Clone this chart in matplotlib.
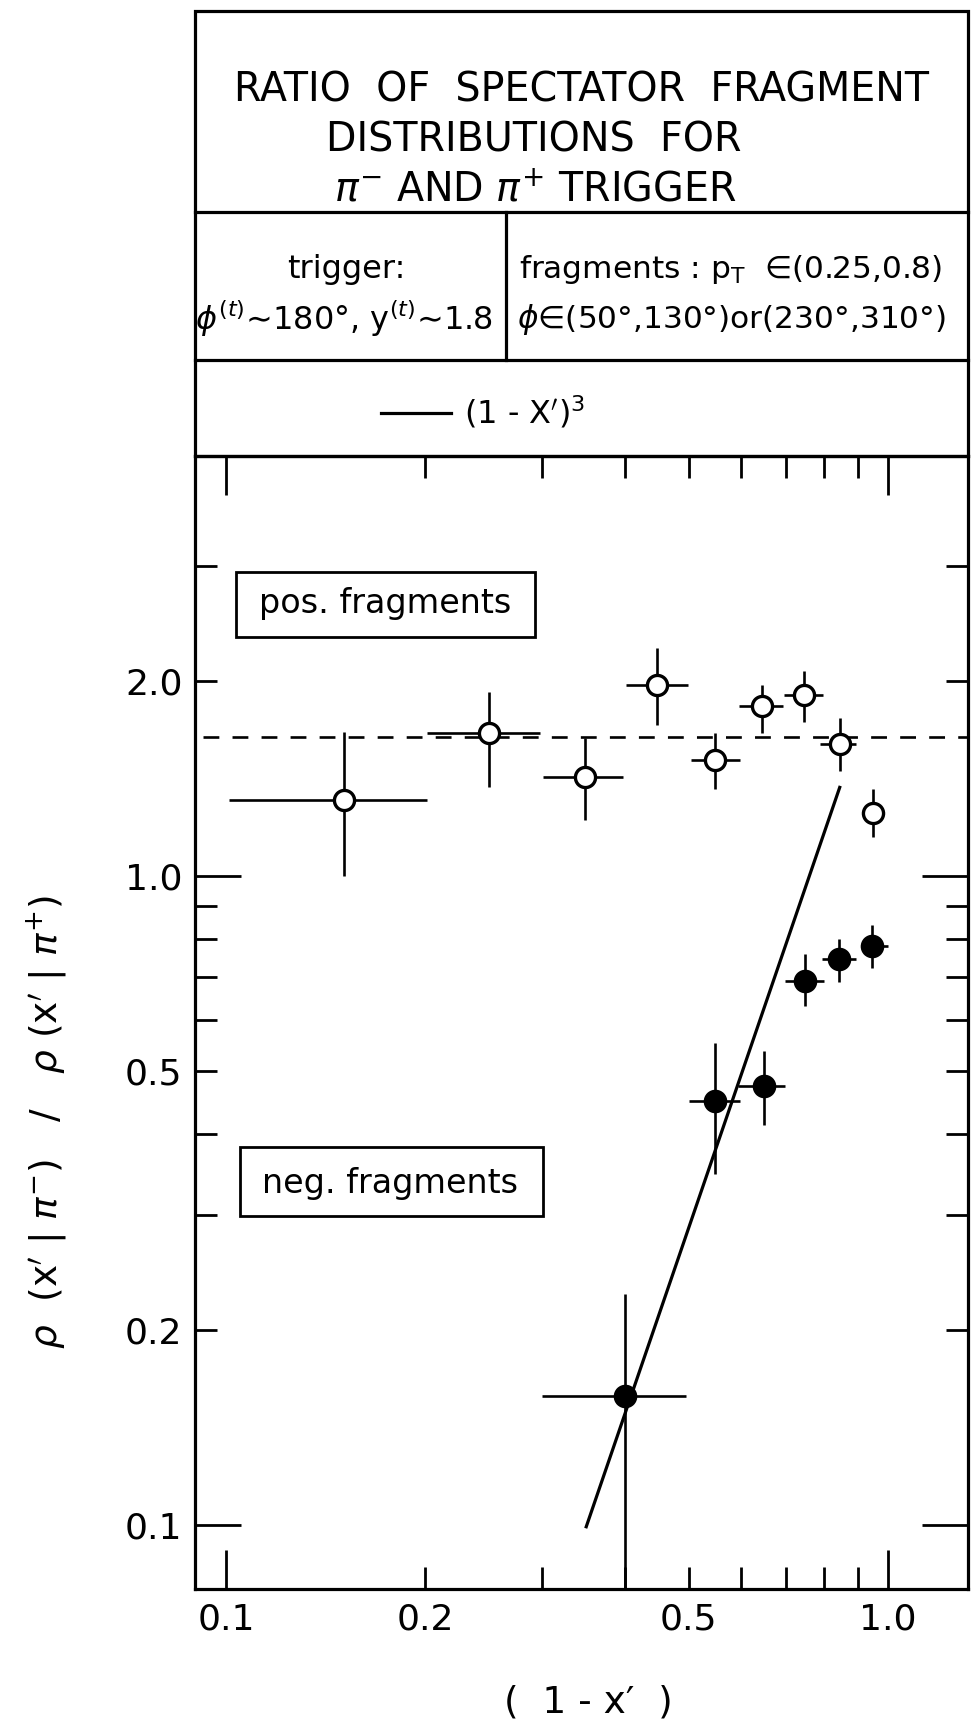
import matplotlib
matplotlib.use('Agg')
import matplotlib.pyplot as plt
from matplotlib.lines import Line2D
from matplotlib.patches import Rectangle
from matplotlib.ticker import FixedLocator, FixedFormatter
from matplotlib import font_manager as fm

# ---------------- data ----------------
# positive fragments (open circles)
pos_x = [0.151, 0.250, 0.349, 0.447, 0.547, 0.645, 0.746, 0.847, 0.949]
pos_xlo = [0.101, 0.201, 0.301, 0.402, 0.503, 0.596, 0.696, 0.788, 0.919]
pos_xhi = [0.201, 0.298, 0.398, 0.498, 0.598, 0.694, 0.797, 0.893, 0.984]
pos_y = [1.31, 1.66, 1.42, 1.97, 1.51, 1.83, 1.90, 1.60, 1.25]
pos_ylo = [1.00, 1.37, 1.22, 1.71, 1.36, 1.66, 1.73, 1.45, 1.15]
pos_yhi = [1.67, 1.92, 1.63, 2.25, 1.66, 1.97, 2.07, 1.75, 1.36]

# negative fragments (filled circles)
neg_x = [0.400, 0.547, 0.649, 0.750, 0.844, 0.944]
neg_xlo = [0.300, 0.500, 0.593, 0.698, 0.794, 0.910]
neg_xhi = [0.495, 0.598, 0.699, 0.801, 0.893, 1.000]
neg_y = [0.158, 0.450, 0.475, 0.690, 0.744, 0.781]
neg_ylo = [0.050, 0.348, 0.414, 0.630, 0.687, 0.722]
neg_yhi = [0.227, 0.553, 0.538, 0.759, 0.799, 0.842]

# (1 - x')^3 curve: straight line in log-log, end points
curve_x = [0.350, 0.845]
curve_y = [0.0994, 1.37]

# dashed mean level for positive fragments
pos_level = 1.64

# axis ticks
x_major = [0.1, 1.0]
x_major_labels = ['0.1', '1.0']
x_minor = [0.2, 0.3, 0.4, 0.5, 0.6, 0.7, 0.8, 0.9]
x_minor_labels = ['0.2', '', '', '0.5', '', '', '', '']
y_major = [0.1, 1.0]
y_major_labels = ['0.1', '1.0']
y_minor = [0.2, 0.3, 0.4, 0.5, 0.6, 0.7, 0.8, 0.9, 2.0, 3.0]
y_minor_labels = ['0.2', '', '', '0.5', '', '', '', '', '2.0', '']

title_lines = ["RATIO  OF  SPECTATOR  FRAGMENT",
               "DISTRIBUTIONS  FOR",
               r"$\pi^{-}$ AND $\pi^{+}$ TRIGGER"]
trigger_lines = ["trigger:", r"$\phi^{(t)}$∼180°, y$^{(t)}$∼1.8"]
frag_lines = [r"fragments : p$_{\rm T}$  ∈(0.25,0.8)",
              r"$\phi$∈(50°,130°)or(230°,310°)"]
curve_label = r"(1 - X$'$)$^{3}$"
ylabel = r"$\rho$  (x$'$ | $\pi^{-}$)   /   $\rho$ (x$'$ | $\pi^{+}$)"
xlabel = "(  1 - x′  )"

# ---------------- layout ----------------
W, H = 979, 1729
fig = plt.figure(figsize=(W / 100, H / 100), dpi=100)
fig.patch.set_facecolor('white')


def fx(x):
    return x / W


def fy(y):
    return 1 - y / H


names = {f.name for f in fm.fontManager.ttflist}
narrow = 'Liberation Sans Narrow' in names
title_family = 'Liberation Sans Narrow' if narrow else 'DejaVu Sans'
title_size = 34 if narrow else 28.5

L, R, T, B = 195, 968, 456, 1589
ax = fig.add_axes([fx(L), fy(B), fx(R) - fx(L), fy(T) - fy(B)])
ax.set_xscale('log')
ax.set_yscale('log')
ax.set_xlim(0.0898, 1.32)
ax.set_ylim(0.0797, 4.44)

for s in ax.spines.values():
    s.set_linewidth(2.3)

ax.xaxis.set_major_locator(FixedLocator(x_major))
ax.xaxis.set_major_formatter(FixedFormatter(x_major_labels))
ax.xaxis.set_minor_locator(FixedLocator(x_minor))
ax.xaxis.set_minor_formatter(FixedFormatter(x_minor_labels))
ax.yaxis.set_major_locator(FixedLocator(y_major))
ax.yaxis.set_major_formatter(FixedFormatter(y_major_labels))
ax.yaxis.set_minor_locator(FixedLocator(y_minor))
ax.yaxis.set_minor_formatter(FixedFormatter(y_minor_labels))

ax.tick_params(axis='both', which='both', direction='in', top=True, right=True,
               width=2.0, labelsize=26, colors='black')
ax.tick_params(axis='x', which='major', length=28, pad=10)
ax.tick_params(axis='x', which='minor', length=16, pad=10)
ax.tick_params(axis='y', which='major', length=33, pad=9)
ax.tick_params(axis='y', which='minor', length=16, pad=9)

# dashed level
ax.axhline(pos_level, xmin=0.01, xmax=1.0, color='black', lw=1.9,
           dashes=(6, 5), zorder=2)
# (1-x')^3 line
ax.plot(curve_x, curve_y, color='black', lw=2.3, zorder=2.5)

# positive fragments
ax.errorbar(pos_x, pos_y,
            xerr=[[a - b for a, b in zip(pos_x, pos_xlo)], [b - a for a, b in zip(pos_x, pos_xhi)]],
            yerr=[[a - b for a, b in zip(pos_y, pos_ylo)], [b - a for a, b in zip(pos_y, pos_yhi)]],
            fmt='o', ms=14.5, mfc='white', mec='black', mew=2.4, ecolor='black',
            elinewidth=1.9, capsize=0, zorder=3)
# negative fragments
ax.errorbar(neg_x, neg_y,
            xerr=[[a - b for a, b in zip(neg_x, neg_xlo)], [b - a for a, b in zip(neg_x, neg_xhi)]],
            yerr=[[a - b for a, b in zip(neg_y, neg_ylo)], [b - a for a, b in zip(neg_y, neg_yhi)]],
            fmt='o', ms=15.5, mfc='black', mec='black', mew=1.5, ecolor='black',
            elinewidth=1.9, capsize=0, zorder=3)

# boxes with labels inside the plot
for (x0, y0, x1, y1, txt, bx, by) in [(236, 572, 535, 637, "pos. fragments", 385, 613),
                                      (240, 1147, 543, 1216, "neg. fragments", 390, 1193)]:
    fig.add_artist(Rectangle((fx(x0), fy(y1)), fx(x1) - fx(x0), fy(y0) - fy(y1),
                             transform=fig.transFigure, fill=True, fc='white',
                             ec='black', lw=2.0, zorder=5))
    fig.text(fx(bx), fy(by), txt, ha='center', va='baseline', fontsize=24, zorder=6)

# ---------------- header ----------------
HT = 11
fig.add_artist(Rectangle((fx(L), fy(T)), fx(R) - fx(L), fy(HT) - fy(T),
                         transform=fig.transFigure, fill=False, ec='black', lw=2.3))
for yy in (212, 360):
    fig.add_artist(Line2D([fx(L), fx(R)], [fy(yy), fy(yy)], transform=fig.transFigure,
                          color='black', lw=2.3))
fig.add_artist(Line2D([fx(506), fx(506)], [fy(212), fy(360)], transform=fig.transFigure,
                      color='black', lw=2.3))

for txt, cx, by in zip(title_lines, [582, 534, 535], [102, 152, 202]):
    fig.text(fx(cx), fy(by), txt, ha='center', va='baseline',
             fontsize=title_size, family=[title_family, 'DejaVu Sans'])

for txt, cx, by in zip(trigger_lines, [346, 344], [278, 330]):
    fig.text(fx(cx), fy(by), txt, ha='center', va='baseline', fontsize=23)
for txt, cx, by in zip(frag_lines, [730, 731], [278, 328]):
    fig.text(fx(cx), fy(by), txt, ha='center', va='baseline', fontsize=22.5)

fig.add_artist(Line2D([fx(381), fx(451)], [fy(413), fy(413)], transform=fig.transFigure,
                      color='black', lw=2.3))
fig.text(fx(464), fy(423), curve_label, ha='left', va='baseline', fontsize=23)

# axis labels
fig.text(fx(47), fy(1122), ylabel, rotation=90, ha='center', va='center', fontsize=27)
fig.text(fx(588), fy(1703), xlabel, ha='center', va='center', fontsize=27)

fig.savefig('out.png', dpi=100, facecolor='white')
